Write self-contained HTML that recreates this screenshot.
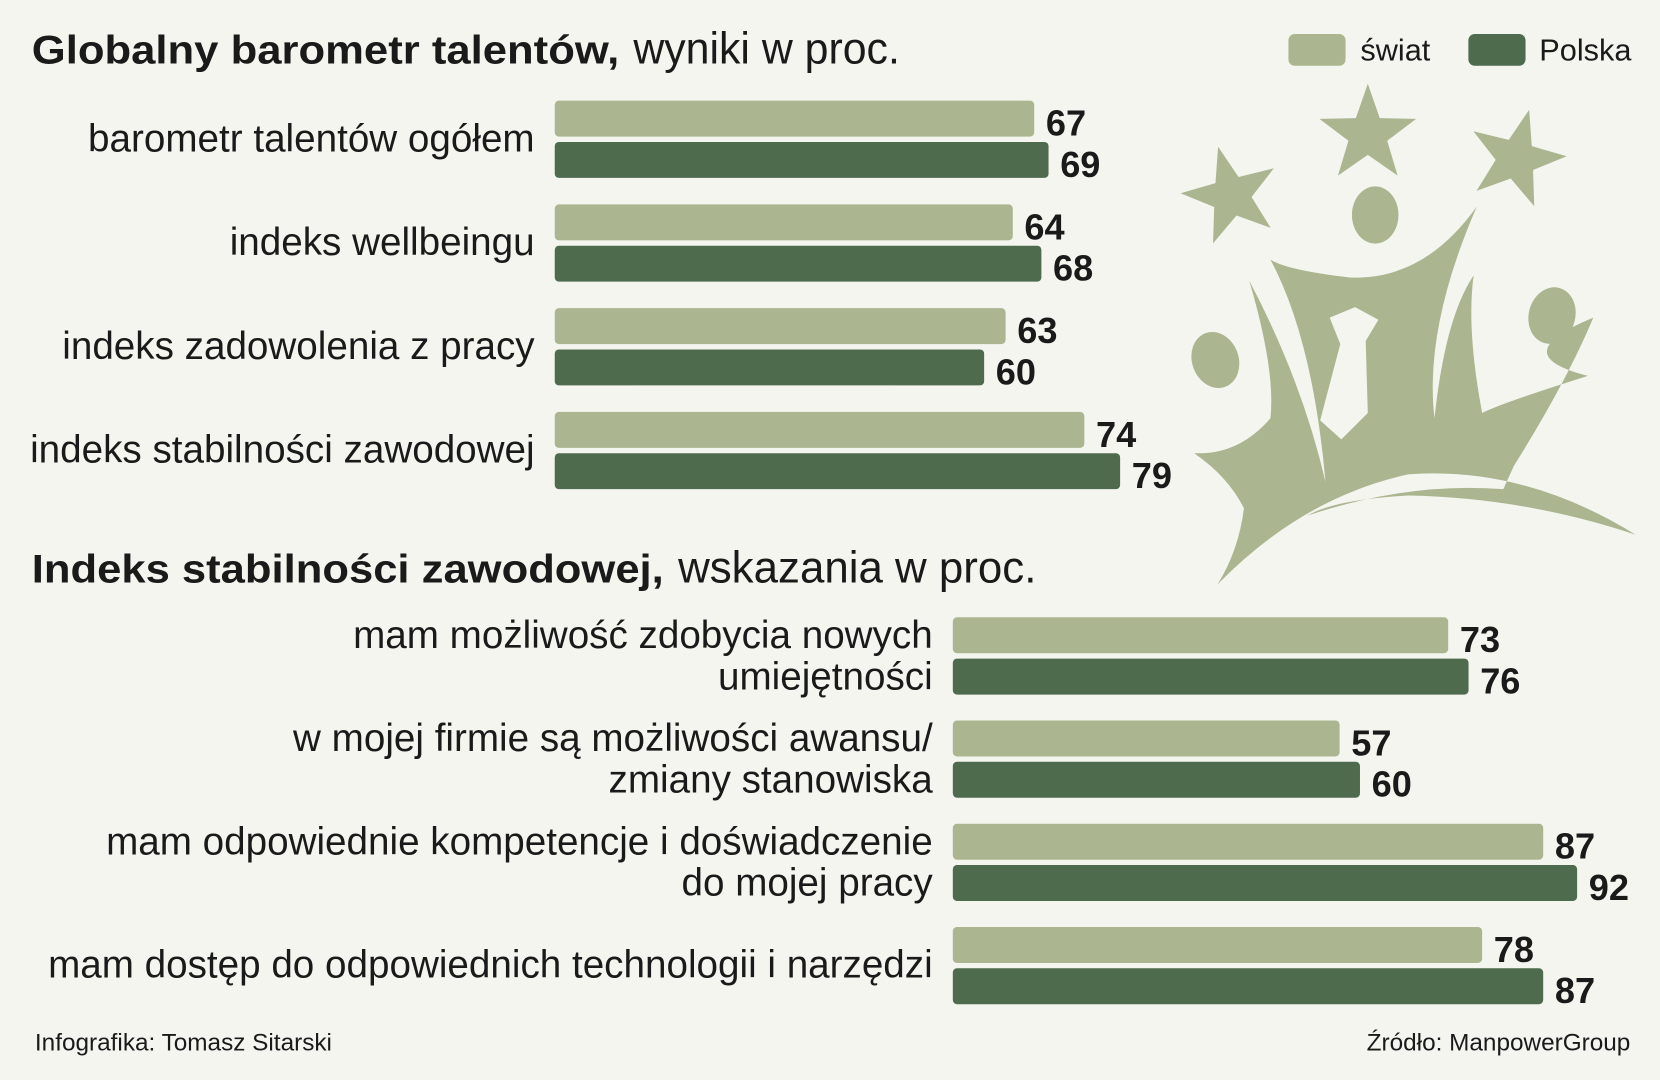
<!DOCTYPE html>
<html><head><meta charset="utf-8">
<style>
html,body{margin:0;padding:0;background:#f5f5f0;}
svg{display:block;}
text{font-family:"Liberation Sans",sans-serif;fill:#1a1a1a;}
.lab{font-size:36.5px;}
.val{font-size:34px;font-weight:bold;}
.tb{font-size:38px;font-weight:bold;}
.tn{font-size:42px;}
</style></head>
<body>
<svg id="chart" width="1660" height="1080" viewBox="0 0 1568 1020" xmlns="http://www.w3.org/2000/svg">
<rect width="1568" height="1020" fill="#f5f5f0"/>
<text x="30" y="60"><tspan class="tb" textLength="555" lengthAdjust="spacingAndGlyphs">Globalny barometr talentów,</tspan><tspan class="tn" dx="2" textLength="263" lengthAdjust="spacingAndGlyphs"> wyniki w proc.</tspan></text>
<text x="30" y="550"><tspan class="tb" textLength="597" lengthAdjust="spacingAndGlyphs">Indeks stabilności zawodowej,</tspan><tspan class="tn" dx="2" textLength="350" lengthAdjust="spacingAndGlyphs"> wskazania w proc.</tspan></text>
<g>
<rect x="1217" y="32" width="54" height="30" rx="6" fill="#abb690"/>
<text x="1285" y="57" style="font-size:29px">świat</text>
<rect x="1387" y="32" width="54" height="30" rx="6" fill="#4e6b4d"/>
<text x="1454" y="57" style="font-size:29px">Polska</text>
</g>
<g fill="#abb690">
<path d="M1150,552 Q1230,470 1330,448 Q1440,440 1545,505 Q1440,470 1330,468 Q1260,472 1235,487 Q1330,455 1420,462 L1430,440 Q1480,360 1505,300 Q1420,335 1500,355 Q1420,380 1400,390 Q1385,310 1392,260 Q1365,300 1355,395 Q1345,310 1395,195 Q1345,265 1275,262 Q1215,255 1200,245 Q1240,320 1252,455 Q1230,360 1180,265 Q1205,350 1200,395 Q1170,430 1128,428 Q1160,450 1175,480 Q1170,520 1150,552 Z"/>
<ellipse cx="1299" cy="203" rx="22" ry="27"/>
<ellipse cx="1148" cy="340" rx="22" ry="27" transform="rotate(-20 1148 340)"/>
<ellipse cx="1466" cy="298" rx="22" ry="27" transform="rotate(15 1466 298)"/>
<polygon points="1256,300 1280,290 1302,302 1290,322 1292,390 1267,415 1247,397 1266,325" fill="#f5f5f0"/>
<polygon id="st1" points=""/><polygon id="st2" points=""/><polygon id="st3" points=""/>
</g>
<g id="top"></g><g id="bot"></g>
<text x="33" y="992" style="font-size:23px">Infografika: Tomasz Sitarski</text>
<text x="1540" y="992" text-anchor="end" style="font-size:23px">Źródło: ManpowerGroup</text>
</svg>
<script>
const topCats=[["barometr talentów ogółem"],["indeks wellbeingu"],["indeks zadowolenia z pracy"],["indeks stabilności zawodowej"]];
const topWorld=[67,64,63,74];
const topPL=[69,68,60,79];
const botCats=[["mam możliwość zdobycia nowych","umiejętności"],["w mojej firmie są możliwości awansu/","zmiany stanowiska"],["mam odpowiednie kompetencje i doświadczenie","do mojej pracy"],["mam dostęp do odpowiednich technologii i narzędzi"]];
const botWorld=[73,57,87,78];
const botPL=[76,60,92,87];
const NS="http://www.w3.org/2000/svg";
function mk(tag,attrs,parent){const e=document.createElementNS(NS,tag);for(const k in attrs)e.setAttribute(k,attrs[k]);parent.appendChild(e);return e;}
function star(id,cx,cy,R,rot){let p=[];for(let i=0;i<10;i++){const r=i%2?R*0.4:R;const a=(rot+i*36-90)*Math.PI/180;p.push((cx+r*Math.cos(a)).toFixed(1)+","+(cy+r*Math.sin(a)).toFixed(1));}document.getElementById(id).setAttribute("points",p.join(" "));}
star("st1",1163,185,48,-15);star("st2",1292,127,48,0);star("st3",1432,150,48,15);
function draw(g,cats,w,p,x0,scale,y0,pitch,labX){
  cats.forEach((c,i)=>{
    const yw=y0+i*pitch, yp=yw+39;
    const b1=mk("rect",{x:x0,y:yw,width:w[i]*scale,height:34,rx:4,fill:"#abb690"},g);
    
    
    const b2=mk("rect",{x:x0,y:yp,width:p[i]*scale,height:34,rx:4,fill:"#4e6b4d"},g);
    
    
    const v1=mk("text",{x:x0+w[i]*scale+11,y:yw+33,class:"val",textLength:38,lengthAdjust:"spacingAndGlyphs"},g);v1.textContent=w[i];
    
    
    const v2=mk("text",{x:x0+p[i]*scale+11,y:yp+33,class:"val",textLength:38,lengthAdjust:"spacingAndGlyphs"},g);v2.textContent=p[i];
    
    
    const mid=yw+36;
    c.forEach((line,j)=>{
      const y=c.length===1?mid+12:mid-7+(j*39);
      const t=mk("text",{x:labX,y:y,"text-anchor":"end",class:"lab"},g);t.textContent=line;
      
      
    });
  });
}
draw(document.getElementById("top"),topCats,topWorld,topPL,524,6.76,95,98,505);
draw(document.getElementById("bot"),botCats,botWorld,botPL,900,6.41,583,97.5,881);
</script>
</body></html>
